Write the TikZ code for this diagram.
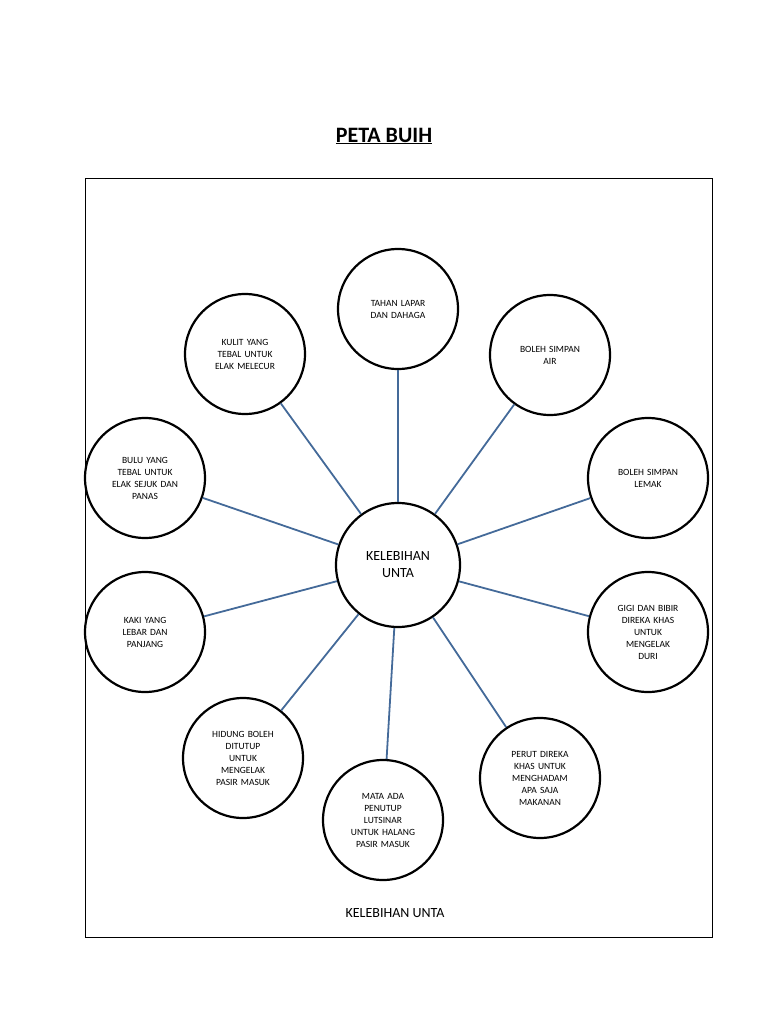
\documentclass[tikz,border=0pt]{standalone}
\usepackage{fontspec}
\setmainfont{Carlito}
\begin{document}
\begin{tikzpicture}[x=1pt,y=-1pt,
  bub/.style={circle,draw=black,line width=2.2pt,minimum size=120pt,inner sep=0pt,align=center,font=\fontsize{9.5}{12}\selectfont,text width=80pt},
  link/.style={draw={rgb,255:red,68;green,106;blue,153},line width=1.8pt}]
\useasboundingbox (0,0) rectangle (768,1024);
\node[font=\bfseries\fontsize{22}{26}\selectfont] (title) at (384,136) {\underline{PETA BUIH}};
\draw[line width=0.8pt] (85,178) rectangle (712,937);
\node[bub,minimum size=124pt,font=\fontsize{14}{17}\selectfont] (c) at (398,565) {KELEBIHAN\\UNTA};
\node[bub] (a) at (398,309) {TAHAN LAPAR\\DAN DAHAGA};
\node[bub] (b) at (245,354) {KULIT YANG\\TEBAL UNTUK\\ELAK MELECUR};
\node[bub] (d) at (550,355) {BOLEH SIMPAN\\AIR};
\node[bub] (e) at (145,478) {BULU YANG\\TEBAL UNTUK\\ELAK SEJUK DAN\\PANAS};
\node[bub] (f) at (648,478) {BOLEH SIMPAN\\LEMAK};
\node[bub] (g) at (145,632) {KAKI YANG\\LEBAR DAN\\PANJANG};
\node[bub] (h) at (648,632) {GIGI DAN BIBIR\\DIREKA KHAS\\UNTUK\\MENGELAK\\DURI};
\node[bub] (i) at (243,758) {HIDUNG BOLEH\\DITUTUP\\UNTUK\\MENGELAK\\PASIR MASUK};
\node[bub] (j) at (540,778) {PERUT DIREKA\\KHAS UNTUK\\MENGHADAM\\APA SAJA\\MAKANAN};
\node[bub] (k) at (383,820) {MATA ADA\\PENUTUP\\LUTSINAR\\UNTUK HALANG\\PASIR MASUK};
\foreach \n in {a,b,d,e,f,g,h,i,j,k} \path[link] (c) -- (\n);
\node[font=\fontsize{14}{17}\selectfont] (lbl) at (395,913) {KELEBIHAN UNTA};
\end{tikzpicture}
\end{document}
